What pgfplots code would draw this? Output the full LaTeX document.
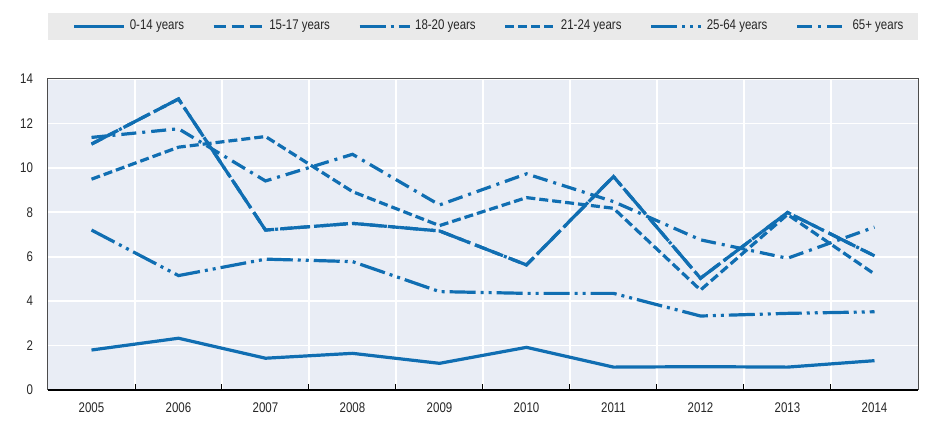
\documentclass[border=0pt]{standalone}
\usepackage{fontspec}
\setmainfont{Liberation Sans}[FakeStretch=0.82]
\usepackage{pgfplots}
\pgfplotsset{compat=1.18}
\definecolor{oecdblue}{RGB}{16,110,178}
\definecolor{plotbg}{RGB}{233,237,245}
\definecolor{legbg}{RGB}{234,234,234}
\begin{document}
\begin{tikzpicture}
\useasboundingbox (0pt,0pt) rectangle (468pt,210.5pt);
\fill[legbg] (24pt,190.5pt) rectangle (459pt,204pt);
\begin{axis}[
  at={(24pt,15.5pt)}, anchor=south west,
  scale only axis, width=435pt, height=155.5pt,
  xmin=2004.5, xmax=2014.5, ymin=0, ymax=14,
  axis background/.style={fill=plotbg},
  axis line style={draw=black!70, line width=0.5pt},
  ytick={0,2,...,14},
  xtick={2005.5,2006.5,...,2013.5},
  xticklabels={},
  extra x ticks={2005,2006,...,2014},
  extra x tick style={grid=none, major tick length=0pt},
  grid=major,
  major grid style={white, line width=0.8pt},
  tick align=inside,
  major tick length=3pt,
  xtick pos=lower, ytick pos=left,
  ytick style={draw=none},
  xtick style={draw=black, line width=0.5pt},
  tick label style={font=\fontsize{7}{8}\selectfont, text=black!85},
  xticklabel style={yshift=-3pt},
  yticklabel style={xshift=-4pt},
  /pgf/number format/.cd, 1000 sep={}, assume math mode=true, /pgfplots/.cd,
  every axis plot/.append style={oecdblue, line width=1.6pt},
  legend columns=6,
  legend image code/.code={\draw[#1] (0pt,0pt) -- (25pt,0pt);},
  legend style={at={(0.5,1)}, anchor=center, yshift=26.25pt, xshift=3.5pt,
    draw=none, fill=none, font=\fontsize{7}{8}\selectfont, text=black!85,
    /tikz/every even column/.append style={column sep=12pt}},
  after end axis/.code={\draw[black, line width=1pt] (rel axis cs:0,0) -- (rel axis cs:1,0);},
]
\addplot[solid] coordinates {(2005,1.8) (2006,2.33) (2007,1.43) (2008,1.65) (2009,1.2) (2010,1.92) (2011,1.03) (2012,1.05) (2013,1.03) (2014,1.32)};
\addlegendentry{0-14 years}
\addplot[dash pattern=on 6pt off 3pt] coordinates {(2005,11.07) (2006,13.1) (2007,7.2) (2008,7.5) (2009,7.16) (2010,5.63) (2011,9.61) (2012,5.03) (2013,7.99) (2014,6.04)};
\addlegendentry{15-17 years}
\addplot[dash pattern=on 13pt off 2.5pt on 1.5pt off 2.5pt] coordinates {(2005,11.07) (2006,13.1) (2007,7.2) (2008,7.5) (2009,7.16) (2010,5.63) (2011,9.61) (2012,5.03) (2013,7.99) (2014,6.04)};
\addlegendentry{18-20 years}
\addplot[dash pattern=on 4.5pt off 2pt] coordinates {(2005,9.49) (2006,10.93) (2007,11.41) (2008,8.93) (2009,7.4) (2010,8.66) (2011,8.18) (2012,4.5) (2013,7.9) (2014,5.22)};
\addlegendentry{21-24 years}
\addplot[dash pattern=on 13pt off 2.5pt on 1.5pt off 2.5pt on 1.5pt off 2.5pt] coordinates {(2005,7.2) (2006,5.15) (2007,5.89) (2008,5.78) (2009,4.43) (2010,4.35) (2011,4.35) (2012,3.33) (2013,3.45) (2014,3.52)};
\addlegendentry{25-64 years}
\addplot[dash pattern=on 7.5pt off 3pt on 1.5pt off 3pt] coordinates {(2005,11.37) (2006,11.76) (2007,9.41) (2008,10.61) (2009,8.33) (2010,9.73) (2011,8.48) (2012,6.76) (2013,5.93) (2014,7.33)};
\addlegendentry{65+ years}
\end{axis}
\end{tikzpicture}
\end{document}
